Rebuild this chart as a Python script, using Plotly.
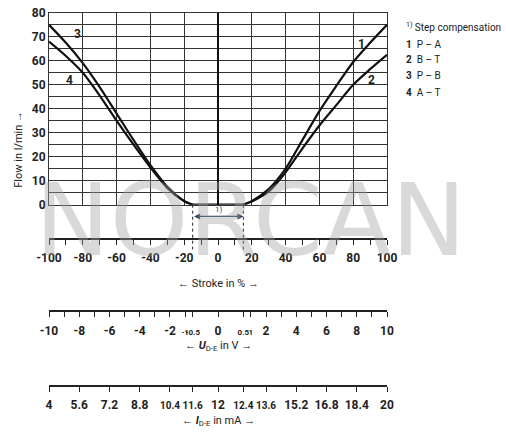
import plotly.graph_objects as go

c1_x = [15,20,30,40,50,60,70,80,90,100]; c1_y = [0,1.5,6.5,15,27,39,49.5,59.5,67.5,75]
c2_x = [15,20,30,40,50,60,70,80,90,100]; c2_y = [0,1.3,5.5,13.5,23.5,33,41.5,50,56.5,62.5]
c3_x = [-100,-90,-80,-70,-60,-50,-40,-30,-20,-15]; c3_y = [75,67.5,59,49,38,27,16.5,7.5,1.5,0]
c4_x = [-100,-90,-80,-70,-60,-50,-40,-30,-20,-15]; c4_y = [68,62,55,45.5,35,25,15.5,7,1.5,0]
flat_x = [-15,15]; flat_y = [0,0]

flow_ticks = list(range(0,81,10))
stroke_ticks = list(range(-100,101,10))
stroke_labels = [str(v) if v % 20 == 0 else "" for v in stroke_ticks]
volt_ticks = [-10,-9,-8,-7,-6,-5,-4,-3,-2,-1,-0.5,0,0.5,1,2,3,4,5,6,7,8,9,10]
volt_labels = ["-10","","-8","","-6","","-4","","-2","-1","-0.5","0","0.5","1","2","","4","","6","","8","","10"]
curr_labels = ["4","5.6","7.2","8.8","10.4","11.6","12","12.4","13.6","15.2","16.8","18.4","20"]
curr_volt = [-10,-8,-6,-4,-2,-0.5,0,0.5,2,4,6,8,10]
narrow = {"-1","-0.5","0.5","1","10.4","11.6","12.4","13.6"}

def v2s(v):
    if abs(v) <= 0.5:
        return v * 30
    s = 1 if v > 0 else -1
    return s * (15 + (abs(v) - 0.5) * 85 / 9.5)

def lab(t):
    if t in ("-1", "-0.5", "0.5", "1"):
        return '<span style="font-size:8px">%s</span>' % t
    return '<span style="font-size:10px">%s</span>' % t if t in narrow else t

fig = go.Figure()
for xs, ys in [(c1_x,c1_y),(c2_x,c2_y),(c3_x,c3_y),(c4_x,c4_y),(flat_x,flat_y)]:
    fig.add_trace(go.Scatter(x=xs, y=ys, mode="lines", line=dict(color="#111", width=2.2, shape="spline", smoothing=0.8), showlegend=False, hoverinfo="skip"))
for ax in ["x2","x3","x4"]:
    fig.add_trace(go.Scatter(x=[-100,100], y=[None,None], xaxis=ax, yaxis="y", showlegend=False))

font = dict(family="Roboto", size=11, color="#222")
bold = dict(family="Roboto", size=12, color="#222", weight="bold")
common = dict(range=[-100,100], anchor="free", overlaying="x", ticks="outside", ticklen=5, tickcolor="#222", tickwidth=1.3,
              showline=True, linecolor="#222", linewidth=2, showgrid=False, zeroline=False, tickfont=bold, side="bottom",
              tickangle=0, ticklabelstandoff=3)
fig.update_layout(
    width=514, height=454, margin=dict(l=49, r=127, t=0, b=0),
    plot_bgcolor="white", paper_bgcolor="white",
    xaxis=dict(range=[-100,100], domain=[0,1], tickvals=list(range(-100,101,20)), showticklabels=False, ticks="",
               showgrid=True, gridcolor="#333", gridwidth=1, zeroline=True, zerolinecolor="#111", zerolinewidth=2,
               showline=True, linecolor="#333", mirror=True),
    yaxis=dict(range=[0,80], domain=[0.5507,0.9868], tickvals=flow_ticks, ticktext=[str(v) for v in flow_ticks], tickfont=bold, ticks="",
               ticklabeloverflow="allow",
               showgrid=True, gridcolor="#333", showline=True, linecolor="#333", mirror=True,
               minor=dict(tickvals=list(range(5,80,10)), showgrid=True, gridcolor="#333")),
    xaxis2=dict(common, position=0.4736, tickvals=stroke_ticks, ticktext=stroke_labels),
    xaxis3=dict(common, position=0.3084, tickvals=[v2s(v) for v in volt_ticks], ticktext=[lab(t) for t in volt_labels]),
    xaxis4=dict(common, position=0.1388, tickvals=[v2s(v) for v in curr_volt], ticktext=[lab(t) for t in curr_labels]),
)
for xv in [-15, 15]:
    fig.add_shape(type="line", xref="x", yref="paper", x0=xv, x1=xv, y0=0.5507, y1=0.449, line=dict(color="#222", width=1, dash="dot"))
fig.add_annotation(xref="x", yref="paper", x=15, y=0.524, ax=-15, ay=0, axref="x", ayref="pixel", showarrow=True, arrowhead=2, arrowside="end+start", arrowsize=1, arrowwidth=1.2, text="")
fig.add_annotation(xref="x", yref="paper", x=0, y=0.524, text="1)", showarrow=False, font=dict(family="Roboto", size=8), yshift=7)

ann = [(-83, 71, "3"), (-88, 52, "4"), (85, 67, "1"), (91, 52, "2")]
for x, y, t in ann:
    fig.add_annotation(x=x, y=y, text="<b>%s</b>" % t, showarrow=False, font=bold)

fig.add_annotation(xref="paper", yref="paper", x=-0.115, y=0.769, text="Flow in l/min →", textangle=-90, showarrow=False, font=font)
fig.add_annotation(xref="x", yref="paper", x=0, y=0.372, text="← Stroke in % →", showarrow=False, font=font)
fig.add_annotation(xref="x", yref="paper", x=0, y=0.209, text="← <b><i>U</i></b><sub>D-E</sub> in V →", showarrow=False, font=font)
fig.add_annotation(xref="x", yref="paper", x=0, y=0.0396, text="← <b><i>I</i></b><sub>D-E</sub> in mA →", showarrow=False, font=font)

legend = ["<sup>1)</sup> Step compensation", "<b>1</b>  P – A", "<b>2</b>  B – T", "<b>3</b>  P – B", "<b>4</b>  A – T"]
legend_y = [0.9736, 0.9317, 0.8987, 0.861, 0.8238]
for t, yv in zip(legend, legend_y):
    fig.add_annotation(xref="paper", yref="paper", x=1.05, y=yv, text=t, showarrow=False, xanchor="left",
                       font=dict(family="Roboto", size=10, color="#222"))

fig.add_annotation(xref="paper", yref="paper", x=0.595, y=0.515, text="NORCAN", showarrow=False,
                   font=dict(family="DejaVu Sans", size=100, color="rgba(160,160,160,0.4)"))

fig.write_html("out.html", post_script="document.body.style.margin='0';", config={"displayModeBar": False})
